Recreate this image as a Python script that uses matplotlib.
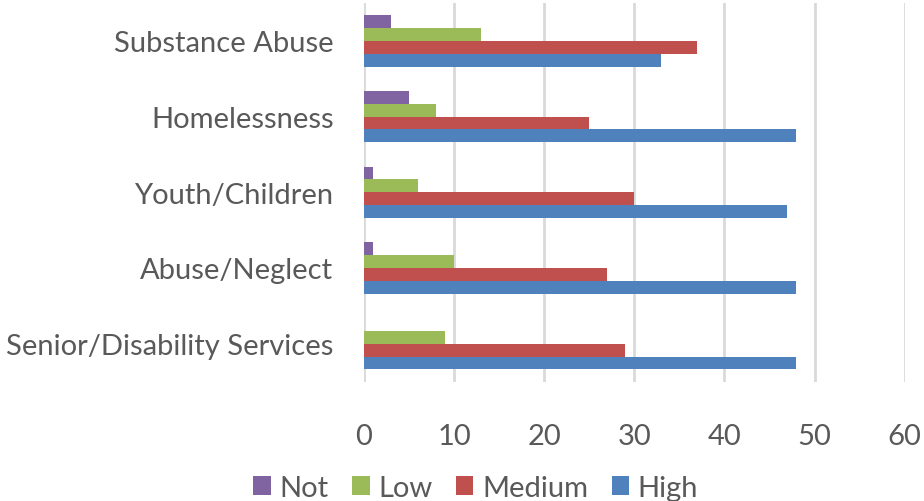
import matplotlib

matplotlib.use("Agg")
import matplotlib.pyplot as plt
import numpy as np

categories = ["Senior/Disability Services", "Abuse/Neglect", "Youth/Children",
              "Homelessness", "Substance Abuse"]
series_names = ["Not", "Low", "Medium", "High"]
not_vals = [0, 1, 1, 5, 3]
low_vals = [9, 10, 6, 8, 13]
medium_vals = [29, 27, 30, 25, 37]
high_vals = [48, 48, 47, 48, 33]
xticks = [0, 10, 20, 30, 40, 50, 60]

colors = {"Not": "#8064A2", "Low": "#9BBB59", "Medium": "#C0504D", "High": "#4F81BD"}
text_color = "#595959"
plt.rcParams["font.family"] = ["Lato", "DejaVu Sans"]

fig = plt.figure(figsize=(9.24, 5.02), dpi=100)
ax = fig.add_axes([0.394, 0.238, 0.585, 0.754])

y = np.arange(len(categories))
h = 0.17
offsets = {"Not": 1.5 * h, "Low": 0.5 * h, "Medium": -0.5 * h, "High": -1.5 * h}
data = {"Not": not_vals, "Low": low_vals, "Medium": medium_vals, "High": high_vals}

for name in series_names:
    ax.barh(y + offsets[name], data[name], height=h, color=colors[name],
            label=name, zorder=3)

ax.set_xlim(0, 60)
ax.set_ylim(-0.5, len(categories) - 0.5)
ax.set_xticks(xticks)
ax.set_yticks(y)
ax.set_yticklabels(categories)
ax.grid(axis="x", color="#D9D9D9", linewidth=2, zorder=0)
for s in ax.spines.values():
    s.set_visible(False)
ax.tick_params(axis="x", length=0, pad=30, labelsize=21, labelcolor=text_color)
ax.tick_params(axis="y", length=0, pad=22, labelsize=21, labelcolor=text_color)

handles, labels = ax.get_legend_handles_labels()
fig.legend(handles, labels, loc="center", bbox_to_anchor=(0.515, 0.026), ncol=4,
           frameon=False, fontsize=21, labelcolor=text_color,
           handlelength=0.6, handleheight=0.6, handletextpad=0.3, columnspacing=0.8)

fig.savefig("out.png", dpi=100)
